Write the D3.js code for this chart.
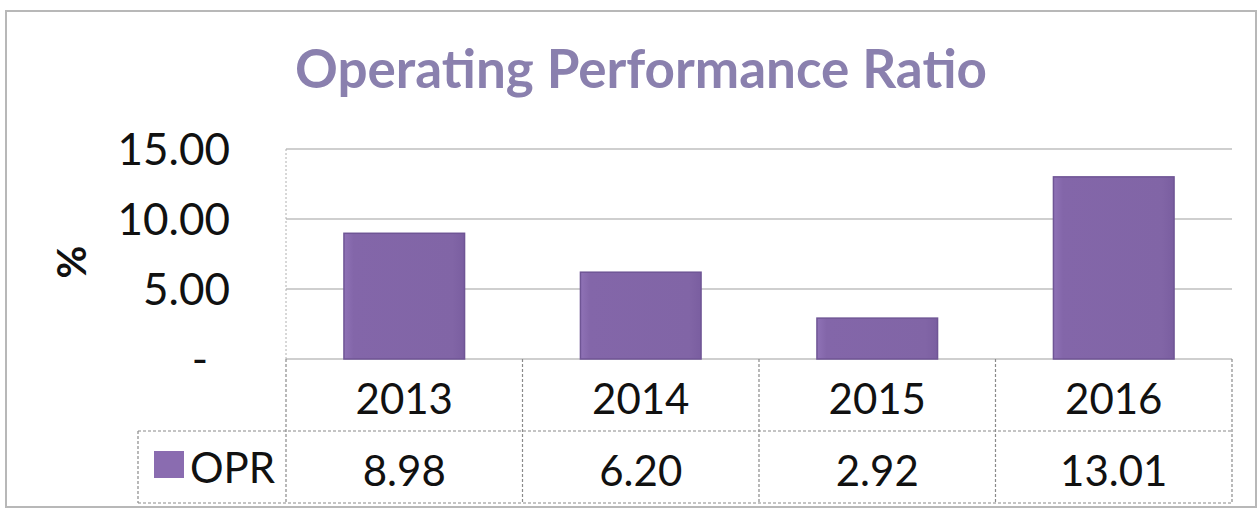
<!DOCTYPE html>
<html>
<head>
<meta charset="utf-8">
<script src="https://cdn.jsdelivr.net/npm/d3@7"></script>
<style>
  body { margin: 0; background: #fff; }
  svg { display: block; font-family: Lato, "Open Sans", sans-serif; }
</style>
</head>
<body>
<div id="chart"><svg></svg></div>
<script>
var years = ["2013", "2014", "2015", "2016"];
var oprValues = [8.98, 6.20, 2.92, 13.01];
var yTicks = [0, 5, 10, 15];
var seriesName = "OPR";

var width = 1260,
    height = 511;

var margin = {left: 286, right: 28, top: 149, bottom: 152};
var rowH = 72;

var svg = d3.select("svg").attr("width", width).attr("height", height);

// outer frame of the chart object
svg.append("rect")
    .attr("x", 6).attr("y", 11)
    .attr("width", 1250).attr("height", 496)
    .attr("fill", "none")
    .attr("stroke", "#b8b8b8")
    .attr("stroke-width", 2);

// title
svg.append("text")
    .attr("x", 641).attr("y", 88)
    .attr("text-anchor", "middle")
    .attr("font-size", 53)
    .attr("font-weight", "bold")
    .attr("fill", "#8a80ae")
    .text("Operating Performance Ratio");

var x = d3.scaleBand()
    .domain(years)
    .range([margin.left, width - margin.right])
    .paddingInner(0.49)
    .paddingOuter(0.245);

var y = d3.scaleLinear()
    .domain([0, 15])
    .range([height - margin.bottom, margin.top]);

// gridlines
svg.append("g").selectAll("line")
    .data(yTicks)
    .enter().append("line")
    .attr("x1", margin.left).attr("x2", width - margin.right)
    .attr("y1", d => y(d)).attr("y2", d => y(d))
    .attr("stroke", "#a0a0a0")
    .attr("stroke-width", 1.2);

// left axis line
svg.append("line")
    .attr("x1", margin.left).attr("x2", margin.left)
    .attr("y1", y(15)).attr("y2", y(0))
    .attr("stroke", "#b0b0b0")
    .attr("stroke-dasharray", "2,2");

// y tick labels
var yAxis = d3.axisLeft(y)
    .tickValues(yTicks)
    .tickSize(0)
    .tickPadding(0)
    .tickFormat(d => d === 0 ? "-" : d3.format(".2f")(d));

var yg = svg.append("g")
    .attr("transform", "translate(230,0)")
    .call(yAxis);
yg.select(".domain").remove();
yg.selectAll("text")
    .attr("font-family", "Lato, sans-serif")
    .attr("font-size", 44)
    .attr("fill", "#111")
    .attr("dy", "0.36em");
yg.selectAll(".tick").filter(d => d === 0).select("text")
    .attr("x", -22);

// axis title
svg.append("text")
    .attr("transform", "translate(86,262) rotate(-90)")
    .attr("text-anchor", "middle")
    .attr("font-size", 40)
    .attr("font-weight", "bold")
    .attr("fill", "#111")
    .text("%");

// bar gradient
var defs = svg.append("defs");
var grad = defs.append("linearGradient").attr("id", "barGrad")
    .attr("x1", "0").attr("x2", "1").attr("y1", "0").attr("y2", "0");
grad.append("stop").attr("offset", "0%").attr("stop-color", "#8f72b6");
grad.append("stop").attr("offset", "8%").attr("stop-color", "#8366a9");
grad.append("stop").attr("offset", "90%").attr("stop-color", "#8165a6");
grad.append("stop").attr("offset", "100%").attr("stop-color", "#7a5ea0");

svg.append("g").selectAll("rect")
    .data(oprValues)
    .enter().append("rect")
    .attr("x", (d, i) => x(years[i]))
    .attr("width", x.bandwidth())
    .attr("y", d => y(d))
    .attr("height", d => y(0) - y(d))
    .attr("fill", "url(#barGrad)")
    .attr("stroke", "#6f5595")
    .attr("stroke-width", 1.5);

// data table below
var tableTop = y(0);
var step = x.step();
var tableLeft = margin.left, tableRight = width - margin.right;
var legendLeft = 138;
var tbl = svg.append("g").attr("stroke", "#8a8a8a").attr("stroke-width", 1.2)
    .attr("stroke-dasharray", "3,2");

// vertical cell lines
var vx = years.map((d, i) => margin.left + step * i).concat([tableRight]);
tbl.selectAll("line.v")
    .data(vx)
    .enter().append("line")
    .attr("class", "v")
    .attr("x1", d => d).attr("x2", d => d)
    .attr("y1", tableTop).attr("y2", tableTop + rowH * 2);
tbl.append("line")
    .attr("x1", legendLeft).attr("x2", legendLeft)
    .attr("y1", tableTop + rowH).attr("y2", tableTop + rowH * 2);
// horizontal lines
tbl.append("line")
    .attr("x1", legendLeft).attr("x2", tableRight)
    .attr("y1", tableTop + rowH).attr("y2", tableTop + rowH);
tbl.append("line")
    .attr("x1", legendLeft).attr("x2", tableRight)
    .attr("y1", tableTop + rowH * 2).attr("y2", tableTop + rowH * 2);

// year row
svg.append("g").selectAll("text")
    .data(years)
    .enter().append("text")
    .attr("x", d => x(d) + x.bandwidth() / 2)
    .attr("y", tableTop + 55)
    .attr("text-anchor", "middle")
    .attr("font-size", 42)
    .attr("fill", "#111")
    .text(d => d);

// value row
svg.append("g").selectAll("text")
    .data(oprValues)
    .enter().append("text")
    .attr("x", (d, i) => x(years[i]) + x.bandwidth() / 2)
    .attr("y", tableTop + rowH + 55)
    .attr("text-anchor", "middle")
    .attr("font-size", 42)
    .attr("fill", "#111")
    .text(d => d3.format(".2f")(d));

// legend key
svg.append("rect")
    .attr("x", 154).attr("y", tableTop + rowH + 20)
    .attr("width", 30).attr("height", 27)
    .attr("fill", "#8a6cb0");
svg.append("text")
    .attr("x", 190).attr("y", tableTop + rowH + 52)
    .attr("font-size", 42)
    .attr("fill", "#111")
    .text(seriesName);
</script>
</body>
</html>
